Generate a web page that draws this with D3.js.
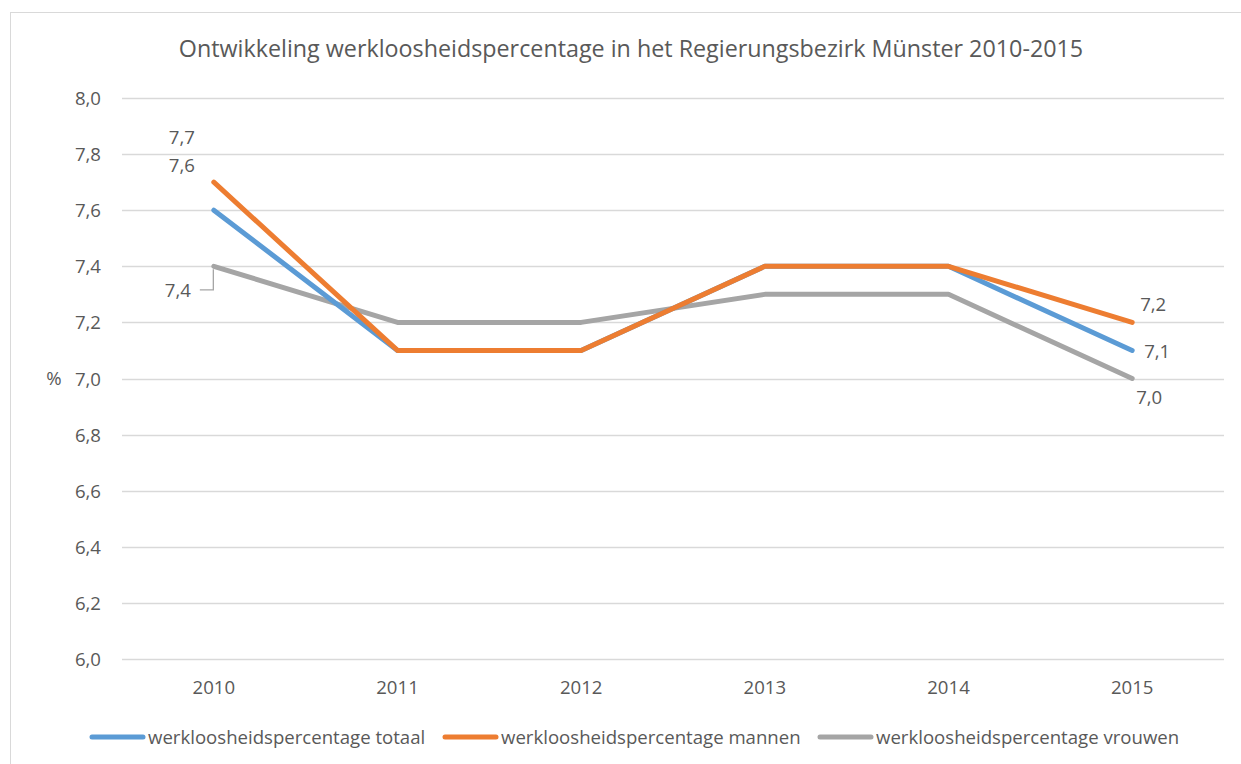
<!DOCTYPE html>
<html><head><meta charset="utf-8">
<script src="https://cdn.jsdelivr.net/npm/d3@7"></script>
<style>
body{margin:0;background:#fff;}
text{font-family:"Open Sans",sans-serif;fill:#595959;}
</style></head>
<body><svg id="c" width="1241" height="764"></svg>
<script>
const years = ["2010","2011","2012","2013","2014","2015"];
const totaal = [7.6,7.1,7.1,7.4,7.4,7.1];
const mannen = [7.7,7.1,7.1,7.4,7.4,7.2];
const vrouwen = [7.4,7.2,7.2,7.3,7.3,7.0];
const yTicks = [6.0,6.2,6.4,6.6,6.8,7.0,7.2,7.4,7.6,7.8,8.0];
const seriesNames = ["werkloosheidspercentage totaal","werkloosheidspercentage mannen","werkloosheidspercentage vrouwen"];
const colors = ["#5B9BD5","#ED7D31","#A5A5A5"];
const title = "Ontwikkeling werkloosheidspercentage in het Regierungsbezirk Münster 2010-2015";

const FS = 18.6;
const svg = d3.select("#c");
const fmt = v => d3.format(".1f")(v).replace(".",",");

svg.append("rect").attr("x",10.5).attr("y",12.5).attr("width",1240).attr("height",760)
  .attr("fill","#fff").attr("stroke","#D9D9D9");

const x = d3.scaleBand().domain(years).range([122,1224]);
const y = d3.scaleLinear().domain([6,8]).range([659,98]);

svg.append("text").attr("x",631).attr("y",57).attr("text-anchor","middle")
  .attr("font-size",23.3).text(title);

svg.append("g").selectAll("line").data(yTicks).join("line")
  .attr("x1",122).attr("x2",1224).attr("y1",d=>Math.round(y(d))+0.5).attr("y2",d=>Math.round(y(d))+0.5)
  .attr("stroke","#D9D9D9").attr("stroke-width",1.3);

const ya = svg.append("g").attr("transform","translate(101,0)")
  .call(d3.axisLeft(y).tickValues(yTicks).tickFormat(fmt).tickSize(0).tickPadding(0));
ya.select(".domain").remove();
ya.selectAll("text").attr("font-size",FS).attr("fill","#595959").attr("font-family","'Open Sans',sans-serif").attr("dy","0.35em");

const xa = svg.append("g").attr("transform","translate(0,694)")
  .call(d3.axisBottom(x).tickSize(0).tickPadding(0));
xa.select(".domain").remove();
xa.selectAll("text").attr("font-size",FS).attr("fill","#595959").attr("font-family","'Open Sans',sans-serif").attr("dy","0");

svg.append("text").attr("x",54).attr("y",y(7.0)).attr("dy","0.35em").attr("text-anchor","middle")
  .attr("font-size",FS).text("%");

const cx = d => x(d)+x.bandwidth()/2;
const line = d3.line().x((d,i)=>cx(years[i])).y(d=>y(d));
const all = [totaal,mannen,vrouwen];
[2,0,1].forEach(k=>{
  svg.append("path").datum(all[k]).attr("d",line).attr("fill","none")
    .attr("stroke",colors[k]).attr("stroke-width",5).attr("stroke-linecap","round").attr("stroke-linejoin","round");
});

const lab = (v,yr,dx,dy)=>svg.append("text").attr("x",cx(yr)+dx).attr("y",y(v)+dy)
  .attr("dy","0.35em").attr("text-anchor","middle").attr("font-size",FS).text(fmt(v));
lab(mannen[0],"2010",-32,-45);
lab(totaal[0],"2010",-32,-45);
lab(vrouwen[0],"2010",-36,24);
lab(mannen[5],"2015",21,-18);
lab(totaal[5],"2015",25,1);
lab(vrouwen[5],"2015",17,19);
svg.append("path").attr("d",`M${cx("2010")-14},${y(vrouwen[0])+23.5}H${cx("2010")-0.5}V${y(vrouwen[0])+3}`)
  .attr("fill","none").attr("stroke","#A5A5A5").attr("stroke-width",1.3);

const lx = [90,443,818];
const lg = svg.append("g").selectAll("g").data(seriesNames).join("g")
  .attr("transform",(d,i)=>`translate(${lx[i]},737)`);
lg.append("line").attr("x1",2).attr("x2",53).attr("y1",0).attr("y2",0)
  .attr("stroke",(d,i)=>colors[i]).attr("stroke-width",5).attr("stroke-linecap","round");
lg.append("text").attr("x",58).attr("dy","0.35em").attr("font-size",FS).text(d=>d);
</script></body></html>
